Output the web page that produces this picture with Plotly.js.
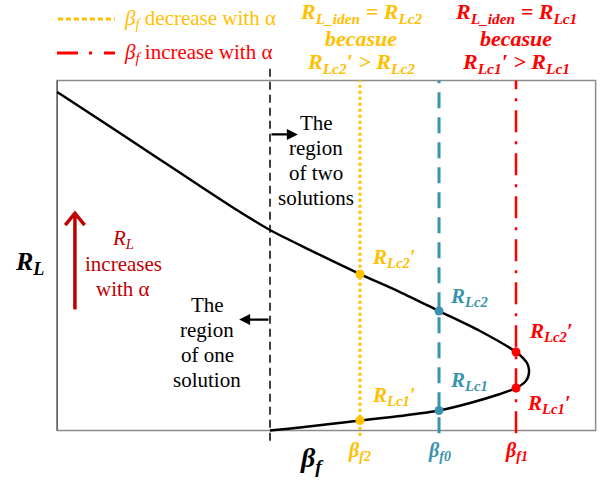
<!DOCTYPE html>
<html>
<head>
<meta charset="utf-8">
<script src="https://cdn.plot.ly/plotly-3.0.1.min.js"></script>
<style>
  html, body { margin: 0; padding: 0; background: #ffffff; }
  #chart { width: 603px; height: 485px; }
</style>
</head>
<body>
<div id="chart"></div>
<script>
// R_L versus beta_f: upper branch, nose, then lower branch
const betaCurve = [0.000, 0.796, 1.724, 2.653, 3.396, 3.953, 4.696, 5.624, 6.367, 7.092, 7.853, 8.522, 8.652, 8.726, 8.763, 8.745, 8.689, 8.522, 8.225, 7.668, 7.092, 6.367, 5.624, 5.067, 4.510, 3.953];
const rlCurve   = [9.671, 8.871, 7.929, 6.986, 6.243, 5.729, 5.157, 4.471, 3.957, 3.414, 2.843, 2.243, 2.071, 1.929, 1.729, 1.529, 1.386, 1.214, 1.043, 0.786, 0.571, 0.414, 0.286, 0.186, 0.086, 0.000];

// beta_f where the second solution appears
const betaBoundary = 3.953;

// critical beta_f values
const betaF2 = 5.624;
const betaF0 = 7.092;
const betaF1 = 8.522;

// R_L on the two branches at each critical beta_f  [upper, lower]
const rlAtF2 = [4.471, 0.286];
const rlAtF0 = [3.414, 0.571];
const rlAtF1 = [2.243, 1.214];

// labels
const tickLabels = ['β<sub>f2</sub>', 'β<sub>f0</sub>', 'β<sub>f1</sub>'];
const labelsF2 = ['R<sub>Lc2</sub>′', 'R<sub>Lc1</sub>′'];
const labelsF0 = ['R<sub>Lc2</sub>', 'R<sub>Lc1</sub>'];
const labelsF1 = ['R<sub>Lc2</sub>′', 'R<sub>Lc1</sub>′'];

const SERIF = '"Liberation Serif", "Times New Roman", Tinos, "DejaVu Serif", serif';
const YEL = '#FFC000';
const TEAL = '#3A93AE';
const RED = '#FF0000';
const DRED = '#C00000';

// plot area geometry (pixels)
const M = { l: 41, r: 2, t: 56, b: 37 };
const W = 603, H = 485;
const PW = W - M.l - M.r, PH = H - M.t - M.b;
const px2paper = (px) => (px - M.l) / PW;
const py2paper = (py) => (H - M.b - py) / PH;

const vline = (x, y0, y1, color, width, dash) => ({
  x: [x, x], y: [y0, y1], mode: 'lines', hoverinfo: 'skip', showlegend: false,
  line: { color: color, width: width, dash: dash }
});
const dots = (x, ys, color) => ({
  x: [x, x], y: ys, mode: 'markers', hoverinfo: 'skip', showlegend: false,
  marker: { color: color, size: 9 }
});

const traces = [
  vline(betaBoundary, -0.29, 10.37, '#000000', 1.5, '8px,5px'),
  vline(betaF2, -0.15, 10, YEL, 3, '3px,3px'),
  vline(betaF0, -0.08, 10, TEAL, 3, '16px,9px'),
  vline(betaF1, -0.08, 10, RED, 2.5, '22px,9px,3px,9px'),
  {
    x: betaCurve, y: rlCurve, mode: 'lines', hoverinfo: 'skip', showlegend: false,
    line: { color: '#000000', width: 2.5, shape: 'spline', smoothing: 0.8 }
  },
  dots(betaF2, rlAtF2, YEL),
  dots(betaF0, rlAtF0, TEAL),
  dots(betaF1, rlAtF1, RED)
];

// text placed in page pixels
function txt(px, py, text, size, color, extra) {
  return Object.assign({
    xref: 'paper', yref: 'paper', x: px2paper(px), y: py2paper(py),
    text: text, showarrow: false, xanchor: 'center', yanchor: 'middle',
    font: { family: SERIF, size: size, color: color }
  }, extra || {});
}
function block(px, pyFirst, step, rows, size, color, extra) {
  return rows.map((r, i) => txt(px, pyFirst + i * step, r, size, color, extra));
}
// label beside a point on the curve
function ptLabel(x, y, text, color, dx, dy) {
  return {
    xref: 'x', yref: 'y', x: x, y: y, text: '<b><i>' + text + '</i></b>',
    showarrow: false, xanchor: 'left', yanchor: 'middle', xshift: dx, yshift: dy,
    font: { family: SERIF, size: 21, color: color }
  };
}
function tickLabel(x, text, color) {
  return {
    xref: 'x', yref: 'paper', x: x, y: py2paper(437), text: '<b><i>' + text + '</i></b>',
    showarrow: false, xanchor: 'center', yanchor: 'top',
    font: { family: SERIF, size: 20, color: color }
  };
}
function arrow(x0, x1, y) {
  return {
    xref: 'x', yref: 'y', axref: 'x', ayref: 'y', x: x1, y: y, ax: x0, ay: y,
    text: '', showarrow: true, arrowhead: 2, arrowsize: 1, arrowwidth: 2.2, arrowcolor: '#000000',
    standoff: 0, startstandoff: 0
  };
}

const annotations = [].concat(
  // legend text
  [txt(122, 19, '<i>β<sub>f</sub></i> decrease with α', 21, YEL, { xanchor: 'left' })],
  [txt(122, 53, '<i>β<sub>f</sub></i> increase with α', 21, RED, { xanchor: 'left' })],
  // conclusions above the plot
  block(361, 13, 25, ['<b><i>R<sub>L_iden</sub> = R<sub>Lc2</sub></i></b>', '<b><i>becasue</i></b>', '<b><i>R<sub>Lc2</sub>′ &gt; R<sub>Lc2</sub></i></b>'], 22, YEL),
  block(516, 13, 25, ['<b><i>R<sub>L_iden</sub> = R<sub>Lc1</sub></i></b>', '<b><i>becasue</i></b>', '<b><i>R<sub>Lc1</sub>′ &gt; R<sub>Lc1</sub></i></b>'], 22, RED),
  // region notes
  block(316, 123, 25, ['The', 'region', 'of two', 'solutions'], 21, '#000000'),
  block(207, 305, 25, ['The', 'region', 'of one', 'solution'], 21, '#000000'),
  block(123, 239, 25, ['<i>R<sub>L</sub></i>', 'increases', 'with α'], 21, DRED),
  // axis titles
  [txt(312, 460, '<b><i>β<sub>f</sub></i></b>', 28, '#000000')],
  [txt(29, 263, '<b><i>R<sub>L</sub></i></b>', 26, '#000000')],
  // point labels
  [ptLabel(betaF2, rlAtF2[0], labelsF2[0], YEL, 10, 16),
   ptLabel(betaF2, rlAtF2[1], labelsF2[1], YEL, 10, 24),
   ptLabel(betaF0, rlAtF0[0], labelsF0[0], TEAL, 9, 14),
   ptLabel(betaF0, rlAtF0[1], labelsF0[1], TEAL, 9, 30),
   ptLabel(betaF1, rlAtF1[0], labelsF1[0], RED, 11, 20),
   ptLabel(betaF1, rlAtF1[1], labelsF1[1], RED, 9, -16)],
  // beta_f tick labels
  [tickLabel(betaF2, tickLabels[0], YEL), tickLabel(betaF0, tickLabels[1], TEAL), tickLabel(betaF1, tickLabels[2], RED)],
  // region arrows
  [arrow(betaBoundary, 4.47, 8.46), arrow(betaBoundary, 3.38, 3.17)]
);

const shapes = [
  // frame
  { type: 'rect', xref: 'x', yref: 'y', x0: 0, x1: 10, y0: 0, y1: 10, layer: 'below',
    line: { color: '#8c8c8c', width: 1.5 } },
  { type: 'line', xref: 'x', yref: 'y', x0: 0, x1: 0, y0: 0, y1: 10, layer: 'below',
    line: { color: '#555555', width: 1.2 } },
  // legend samples
  { type: 'line', xref: 'paper', yref: 'paper', x0: px2paper(58), x1: px2paper(115), y0: py2paper(19), y1: py2paper(19),
    line: { color: YEL, width: 3, dash: '5px,3px' } },
  { type: 'line', xref: 'paper', yref: 'paper', x0: px2paper(57), x1: px2paper(115), y0: py2paper(53), y1: py2paper(53),
    line: { color: RED, width: 3, dash: '21px,11px,3px,12px,11px,40px' } },
  // R_L increase arrow (shaft and head)
  { type: 'line', xref: 'x', yref: 'y', x0: 0.33, x1: 0.33, y0: 3.46, y1: 6.20,
    line: { color: DRED, width: 3.5 } },
  { type: 'path', xref: 'x', yref: 'y', path: 'M 0.15,5.87 L 0.33,6.21 L 0.51,5.87',
    line: { color: DRED, width: 3.5 } }
];

const layout = {
  width: W, height: H, margin: M,
  paper_bgcolor: '#ffffff', plot_bgcolor: '#ffffff',
  showlegend: false,
  font: { family: SERIF },
  xaxis: { range: [-0.3, 10.1], visible: false, fixedrange: true },
  yaxis: { range: [-0.5, 10.7], visible: false, fixedrange: true },
  annotations: annotations,
  shapes: shapes
};

Plotly.newPlot('chart', traces, layout, { displayModeBar: false, staticPlot: true });
</script>
</body>
</html>
